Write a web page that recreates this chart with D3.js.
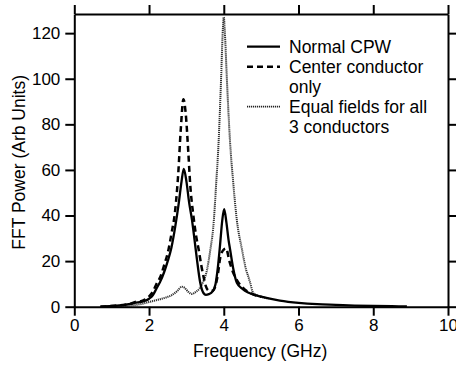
<!DOCTYPE html>
<html>
<head>
<meta charset="utf-8">
<script src="https://cdn.jsdelivr.net/npm/d3@7"></script>
<style>
  html, body { margin: 0; padding: 0; background: #fff; }
  svg { display: block; }
  text { font-family: "Liberation Sans", Arial, Helvetica, sans-serif; fill: #000; }
</style>
</head>
<body>
<svg id="chart" width="456" height="366"></svg>
<script>
// ---- Data ----
const xTicks = [0, 2, 4, 6, 8, 10];
const yTicks = [0, 20, 40, 60, 80, 100, 120];
const seriesNames = ["Normal CPW", "Center conductor\nonly", "Equal fields for all\n3 conductors"];

const normalF = [0.7, 1.0, 1.3, 1.5, 1.65, 1.75, 1.9, 2.0, 2.1, 2.2, 2.3, 2.4, 2.5, 2.6, 2.7, 2.8, 2.87, 2.93, 3.0, 3.07, 3.15, 3.22, 3.28, 3.37, 3.46, 3.52, 3.6, 3.7, 3.78, 3.84, 3.9, 3.96, 4.01, 4.07, 4.13, 4.17, 4.25, 4.35, 4.5, 4.65, 4.8, 5.0, 5.2, 5.5, 6.0, 6.5, 7.0, 7.5, 8.0, 8.5, 8.9];
const normalV = [0, 0.3, 0.7, 1.2, 1.8, 2.0, 2.6, 3.5, 5, 8, 11, 15, 20, 26, 35, 46, 55, 60.5, 55, 46, 38, 29, 21, 10.5, 5.9, 5.2, 5.5, 6.7, 10, 17, 27, 38, 42.8, 37, 29, 25, 17, 10.5, 7.8, 6.2, 5.3, 4.4, 3.6, 2.7, 1.7, 1.1, 0.8, 0.5, 0.3, 0.2, 0.1];

const centerF = [0.7, 1.0, 1.3, 1.5, 1.65, 1.75, 1.9, 2.0, 2.1, 2.2, 2.3, 2.4, 2.52, 2.6, 2.7, 2.78, 2.85, 2.92, 2.98, 3.05, 3.1, 3.19, 3.26, 3.33, 3.4, 3.46, 3.52, 3.6, 3.7, 3.77, 3.84, 3.9, 3.97, 4.06, 4.15, 4.25, 4.35, 4.5, 4.65, 4.8, 5.0];
const centerV = [0, 0.3, 0.8, 1.3, 2.2, 2.3, 3.2, 4.5, 6.5, 10, 13, 18, 25, 32, 42.4, 58, 78, 91, 85, 68, 54, 39.5, 31, 24.9, 18, 13, 9, 7, 7, 8.8, 14, 21, 24.5, 25.6, 20, 15, 11.7, 8.5, 6.5, 5.3, 4.4];

const equalF = [0.7, 1.0, 1.5, 1.8, 2.03, 2.3, 2.48, 2.6, 2.75, 2.88, 2.95, 3.05, 3.15, 3.25, 3.35, 3.45, 3.55, 3.64, 3.72, 3.8, 3.86, 3.93, 3.97, 4.0, 4.03, 4.08, 4.17, 4.25, 4.35, 4.49, 4.6, 4.66, 4.71, 4.79, 4.9, 5.2];
const equalV = [0, 0.1, 0.5, 1.2, 2.2, 3.3, 4.2, 5, 6.8, 8.8, 8.3, 6.5, 5.6, 6.5, 8.0, 11, 16, 25, 35, 55, 71.7, 100.9, 120, 127, 120, 100.9, 71.7, 55, 38, 24.9, 16, 13, 10.3, 5.9, 5.0, 3.6];

// ---- Layout ----
const svg = d3.select("#chart");
const x = d3.scaleLinear().domain([0, 10]).range([74.3, 448]);
const y = d3.scaleLinear().domain([0, 128.4]).range([306.7, 14]);

const zip = (fs, vs) => fs.map((f, i) => ({ f, v: vs[i] }));
const line = d3.line().x(d => x(d.f)).y(d => y(d.v)).curve(d3.curveMonotoneX);

// ---- Curves ----
svg.append("path").datum(zip(equalF, equalV))
  .attr("d", line).attr("fill", "none")
  .attr("stroke", "#333").attr("stroke-width", 2).attr("stroke-dasharray", "1.2,0.8");
svg.append("path").datum(zip(centerF, centerV))
  .attr("d", line).attr("fill", "none")
  .attr("stroke", "#000").attr("stroke-width", 2.5).attr("stroke-dasharray", "6,4");
svg.append("path").datum(zip(normalF, normalV))
  .attr("d", line).attr("fill", "none")
  .attr("stroke", "#000").attr("stroke-width", 2.3);

// ---- Axes ----
const tickLen = 9;
function styleAxis(g) {
  g.selectAll(".domain").attr("stroke", "#000").attr("stroke-width", 2);
  g.selectAll(".tick line").attr("stroke", "#000").attr("stroke-width", 2);
  g.selectAll(".tick text").style("font-size", "17px").attr("fill", "#000")
    .style("font-family", "'Liberation Sans', Arial, Helvetica, sans-serif");
}
svg.append("g").attr("transform", `translate(0,${y(0)})`)
  .call(d3.axisBottom(x).tickValues(xTicks).tickSize(tickLen).tickSizeOuter(0).tickPadding(3).tickFormat(d3.format("d")))
  .call(styleAxis);
svg.append("g").attr("transform", `translate(0,${y.range()[1]})`)
  .call(d3.axisTop(x).tickValues(xTicks).tickSize(tickLen).tickSizeOuter(0).tickFormat(""))
  .call(styleAxis);
svg.append("g").attr("transform", `translate(${x(0)},0)`)
  .call(d3.axisLeft(y).tickValues(yTicks).tickSize(tickLen).tickSizeOuter(0).tickPadding(5).tickFormat(d3.format("d")))
  .call(styleAxis);
svg.append("g").attr("transform", `translate(${x(10)},0)`)
  .call(d3.axisRight(y).tickValues(yTicks).tickSize(tickLen).tickSizeOuter(0).tickFormat(""))
  .call(styleAxis);

// ---- Axis titles ----
svg.append("text").attr("x", (x(0) + x(10)) / 2 - 1).attr("y", 357)
  .attr("text-anchor", "middle").style("font-size", "17.5px").text("Frequency (GHz)");
svg.append("text").attr("transform", `translate(25,${(y(0) + y.range()[1]) / 2 + 2}) rotate(-90)`)
  .attr("text-anchor", "middle").style("font-size", "17.5px").text("FFT Power (Arb Units)");

// ---- Legend ----
const legendStyles = [
  { stroke: "#000", width: 2.3, dash: null },
  { stroke: "#000", width: 2.5, dash: "6,4" },
  { stroke: "#222", width: 1.8, dash: "1.2,0.8" }
];
const rowY = [46.7, 66.7, 106.7];
const leg = svg.append("g");
seriesNames.forEach((name, i) => {
  const st = legendStyles[i];
  const ly = rowY[i];
  const l = leg.append("line").attr("x1", 247).attr("x2", 280).attr("y1", ly).attr("y2", ly)
    .attr("stroke", st.stroke).attr("stroke-width", st.width);
  if (st.dash) l.attr("stroke-dasharray", st.dash);
  name.split("\n").forEach((part, j) => {
    leg.append("text").attr("x", 289).attr("y", ly + 6 + j * 20)
      .style("font-size", "17.5px").text(part);
  });
});
</script>
</body>
</html>
